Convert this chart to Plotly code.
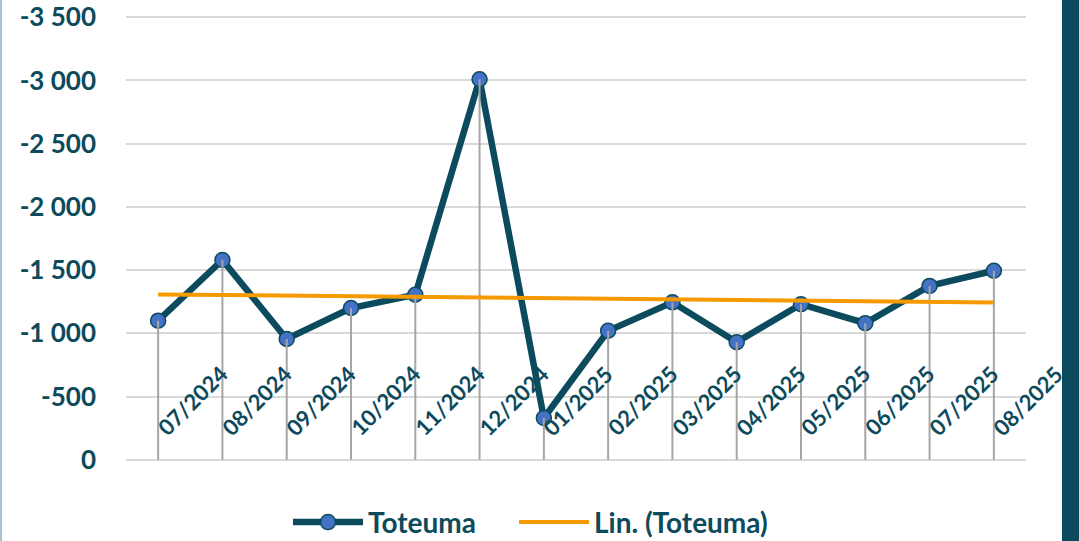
import numpy as np
import plotly.graph_objects as go

# ---- data ----
months = ["07/2024", "08/2024", "09/2024", "10/2024", "11/2024", "12/2024", "01/2025",
          "02/2025", "03/2025", "04/2025", "05/2025", "06/2025", "07/2025", "08/2025"]
toteuma = [-1100, -1580, -955, -1200, -1305, -3010, -330, -1020, -1245, -930, -1230, -1080, -1375, -1495]
y_tickvals = [0, -500, -1000, -1500, -2000, -2500, -3000, -3500]
y_ticktext = ["0", "-500", "-1 000", "-1 500", "-2 000", "-2 500", "-3 000", "-3 500"]
series_name = "Toteuma"
trend_name = "Lin. (Toteuma)"

TEAL = "#0c4b5d"
TEXT = "#0d4a5c"
FONT = "Lato"

n = len(months)
idx = np.arange(len(toteuma))
slope, intercept = np.polyfit(idx, np.array(toteuma, dtype=float), 1)
trend = slope * idx + intercept

# drop lines built from data
drop_x, drop_y = [], []
for i, v in zip(idx, toteuma):
    drop_x += [i, i, None]
    drop_y += [v, 0, None]

fig = go.Figure()
fig.add_trace(go.Scatter(
    x=idx, y=toteuma, mode="lines+markers", name=series_name, legend="legend",
    line=dict(color=TEAL, width=6.5),
    marker=dict(size=15, color="#4472c4", line=dict(color=TEAL, width=1.5)),
))
fig.add_trace(go.Scatter(
    x=drop_x, y=drop_y, mode="lines", showlegend=False, hoverinfo="skip",
    line=dict(color="#a6a6a6", width=2),
))
fig.add_trace(go.Scatter(
    x=idx, y=trend, mode="lines", name=trend_name, legend="legend2",
    line=dict(color="#f59a00", width=4),
))

# rotated category labels inside the plot (paper x derived from category index)
for i, m in enumerate(months):
    fig.add_annotation(x=(i + 0.53 + 0.5) / n, y=-470, xref="paper", yref="y", text=m,
                       showarrow=False, textangle=-45,
                       font=dict(family=FONT, size=22, color=TEXT, weight="bold"),
                       xanchor="center", yanchor="middle")

# right dark bar and left thin border
fig.add_shape(type="rect", xref="paper", yref="paper",
              x0=(1062 - 126) / 900, x1=(1090 - 126) / 900, y0=-1, y1=2,
              fillcolor="#0b4a5c", line=dict(width=0), layer="above")
fig.add_shape(type="rect", xref="paper", yref="paper",
              x0=(-5 - 126) / 900, x1=(2 - 126) / 900, y0=-1, y1=2,
              fillcolor="#a9c3ce", line=dict(width=0), layer="above")

legend_common = dict(orientation="h", y=-0.138, yanchor="middle", xanchor="left",
                     font=dict(family=FONT, size=28, color=TEXT, weight="bold"),
                     itemwidth=70, bgcolor="rgba(0,0,0,0)")

fig.update_layout(
    width=1079, height=541,
    margin=dict(l=126, r=53, t=16, b=80, autoexpand=False),
    paper_bgcolor="white", plot_bgcolor="white",
    font=dict(family=FONT, color=TEXT),
    xaxis=dict(range=[-0.5, n - 0.5], showgrid=False, zeroline=False, automargin=False,
               showticklabels=False, showline=False, ticks=""),
    yaxis=dict(range=[10, -3510], tickvals=y_tickvals, ticktext=y_ticktext, automargin=False,
               showgrid=True, gridcolor="#d9d9d9", gridwidth=2, zeroline=False,
               showline=False, ticks="", ticklabelstandoff=29,
               tickfont=dict(family=FONT, size=26, color=TEXT, weight="bold")),
    legend=dict(x=(288 - 126) / 900, **legend_common),
    legend2=dict(x=(514 - 126) / 900, **legend_common),
    showlegend=True,
)

fig.write_html("out.html", config={"displayModeBar": False},
               post_script="document.body.style.margin='0';document.body.style.overflow='hidden';")
